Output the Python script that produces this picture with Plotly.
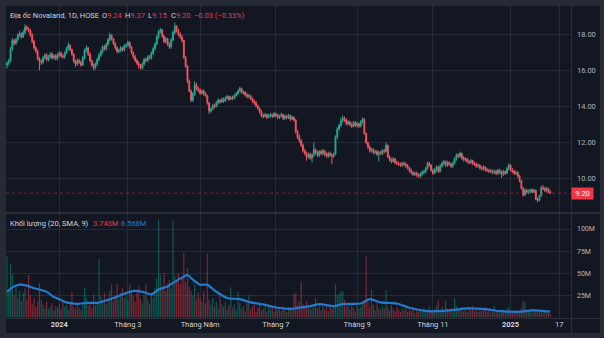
import plotly.graph_objects as go

# ---------------- data ----------------
opens = [
    16.30, 16.40, 16.55, 17.20, 17.65, 17.50, 17.70, 17.95, 18.05, 17.85,
    18.10, 18.40, 18.30, 18.20, 17.95, 17.60, 17.25, 17.05, 16.65, 16.50,
    16.45, 16.70, 16.85, 16.60, 16.75, 16.90, 16.70, 16.80, 16.65, 16.85,
    16.95, 16.80, 16.75, 16.95, 17.20, 17.40, 17.15, 16.90, 16.50, 16.35,
    16.55, 16.45, 16.30, 16.70, 17.10, 17.25, 16.90, 16.55, 16.30, 16.15,
    16.35, 16.60, 16.85, 17.05, 17.30, 17.20, 17.45, 17.70, 17.95, 17.75,
    17.50, 17.25, 17.05, 17.10, 17.25, 17.15, 17.35, 17.40, 17.55, 17.30,
    17.00, 16.75, 16.55, 16.40, 16.25, 16.15, 16.35, 16.60, 16.55, 16.75,
    16.70, 16.95, 17.20, 17.45, 17.85, 18.15, 18.25, 17.90, 17.60, 17.75,
    17.45, 17.30, 17.70, 18.10, 18.45, 18.20, 18.00, 17.85, 17.65, 16.70,
    16.25, 15.40, 14.85, 14.35, 14.70, 15.20, 15.00, 14.90, 14.75, 14.85,
    14.70, 14.60, 14.20, 13.75, 13.85, 14.05, 14.00, 14.20, 14.35, 14.25,
    14.40, 14.30, 14.45, 14.55, 14.40, 14.50, 14.45, 14.60, 14.70, 14.85,
    15.00, 14.75, 14.80, 14.65, 14.55, 14.60, 14.45, 14.30, 14.20, 14.05,
    13.90, 13.70, 13.50, 13.45, 13.55, 13.40, 13.50, 13.55, 13.45, 13.60,
    13.50, 13.40, 13.45, 13.55, 13.35, 13.45, 13.40, 13.50, 13.30, 13.40,
    13.25, 12.60, 12.30, 12.10, 11.85, 11.55, 11.40, 11.20, 11.35, 11.15,
    11.30, 11.60, 11.45, 11.30, 11.50, 11.40, 11.55, 11.35, 11.25, 11.40,
    11.30, 11.25, 11.35, 12.30, 12.75, 12.95, 13.20, 13.35, 13.25, 13.05,
    13.15, 13.00, 12.90, 13.10, 12.95, 13.05, 12.90, 13.15, 13.30, 12.50,
    12.00, 11.75, 11.55, 11.60, 11.45, 11.50, 11.35, 11.45, 11.40, 11.55,
    11.50, 11.85, 11.20, 11.05, 10.95, 11.10, 10.90, 10.85, 10.80, 10.75,
    10.85, 10.80, 10.70, 10.60, 10.45, 10.35, 10.25, 10.30, 10.20, 10.15,
    10.25, 10.35, 10.40, 10.55, 10.85, 10.75, 10.45, 10.30, 10.50, 10.65,
    10.40, 10.70, 10.85, 10.95, 10.75, 10.90, 10.80, 10.70, 10.85, 11.10,
    11.30, 11.25, 11.40, 11.15, 11.05, 11.10, 10.95, 10.90, 11.00, 10.85,
    10.80, 10.70, 10.75, 10.60, 10.55, 10.65, 10.50, 10.45, 10.40, 10.45,
    10.35, 10.40, 10.30, 10.45, 10.35, 10.25, 10.40, 10.30, 10.55, 10.75,
    10.50, 10.40, 10.30, 10.35, 10.15, 9.90, 9.45, 9.10, 9.35, 9.25,
    9.30, 9.40, 9.25, 9.35, 8.85, 8.80, 9.05, 9.50, 9.45, 9.35,
    9.45, 9.24,
]
highs = [
    16.50, 16.65, 17.30, 17.80, 17.75, 17.80, 18.05, 18.20, 18.10, 18.25,
    18.55, 18.50, 18.40, 18.30, 18.05, 17.70, 17.35, 17.15, 16.75, 16.60,
    16.80, 16.95, 16.95, 16.85, 17.00, 17.00, 16.90, 16.90, 16.95, 17.05,
    17.05, 16.90, 17.05, 17.30, 17.55, 17.45, 17.20, 16.95, 16.60, 16.65,
    16.65, 16.55, 16.80, 17.20, 17.40, 17.30, 17.00, 16.60, 16.40, 16.45,
    16.70, 16.95, 17.15, 17.40, 17.40, 17.55, 17.80, 18.10, 18.00, 17.80,
    17.55, 17.35, 17.20, 17.35, 17.30, 17.45, 17.50, 17.65, 17.60, 17.35,
    17.05, 16.85, 16.65, 16.50, 16.35, 16.45, 16.70, 16.70, 16.85, 16.85,
    17.05, 17.30, 17.55, 17.95, 18.25, 18.35, 18.30, 17.95, 17.85, 17.80,
    17.55, 17.80, 18.20, 18.65, 18.50, 18.30, 18.10, 17.95, 17.70, 16.80,
    16.30, 15.50, 14.95, 14.80, 15.40, 15.30, 15.10, 15.00, 14.95, 14.95,
    14.80, 14.65, 14.25, 13.95, 14.15, 14.15, 14.30, 14.45, 14.40, 14.50,
    14.50, 14.55, 14.65, 14.60, 14.60, 14.60, 14.70, 14.80, 14.95, 15.10,
    15.05, 14.90, 14.85, 14.75, 14.70, 14.65, 14.50, 14.40, 14.30, 14.10,
    13.95, 13.80, 13.60, 13.65, 13.60, 13.60, 13.65, 13.60, 13.70, 13.65,
    13.60, 13.55, 13.65, 13.60, 13.55, 13.55, 13.60, 13.55, 13.50, 13.45,
    13.30, 12.70, 12.45, 12.20, 11.95, 11.65, 11.50, 11.45, 11.45, 11.40,
    12.00, 11.70, 11.55, 11.60, 11.60, 11.65, 11.60, 11.45, 11.50, 11.50,
    11.40, 11.45, 12.40, 12.85, 13.05, 13.35, 13.50, 13.45, 13.35, 13.25,
    13.20, 13.10, 13.20, 13.20, 13.15, 13.10, 13.25, 13.40, 13.35, 12.55,
    12.05, 11.85, 11.70, 11.70, 11.60, 11.60, 11.55, 11.55, 11.65, 11.65,
    12.00, 11.90, 11.30, 11.15, 11.20, 11.15, 11.00, 10.95, 10.90, 10.95,
    10.95, 10.90, 10.80, 10.65, 10.55, 10.40, 10.40, 10.40, 10.30, 10.35,
    10.45, 10.50, 10.65, 10.95, 10.95, 10.80, 10.55, 10.60, 10.75, 10.70,
    10.80, 10.95, 11.05, 11.00, 11.00, 10.95, 10.90, 10.95, 11.20, 11.40,
    11.40, 11.50, 11.45, 11.25, 11.20, 11.15, 11.05, 11.10, 11.05, 10.95,
    10.90, 10.85, 10.80, 10.70, 10.75, 10.70, 10.60, 10.55, 10.55, 10.50,
    10.50, 10.50, 10.55, 10.55, 10.45, 10.50, 10.45, 10.65, 10.85, 10.80,
    10.60, 10.50, 10.45, 10.40, 10.20, 9.95, 9.55, 9.45, 9.45, 9.40,
    9.45, 9.45, 9.45, 9.40, 8.95, 9.10, 9.60, 9.65, 9.55, 9.55,
    9.50, 9.37,
]
lows = [
    16.10, 16.30, 16.45, 17.10, 17.40, 17.40, 17.60, 17.85, 17.75, 17.80,
    18.00, 18.20, 18.10, 17.85, 17.50, 17.15, 16.95, 16.55, 16.00, 16.30,
    16.35, 16.60, 16.50, 16.50, 16.65, 16.60, 16.60, 16.55, 16.55, 16.75,
    16.70, 16.65, 16.65, 16.90, 17.10, 17.05, 16.80, 16.40, 16.20, 16.25,
    16.35, 16.20, 16.25, 16.60, 17.00, 16.80, 16.45, 16.20, 16.00, 16.05,
    16.25, 16.50, 16.75, 16.95, 17.10, 17.10, 17.35, 17.60, 17.65, 17.40,
    17.15, 16.95, 16.95, 17.00, 17.05, 17.05, 17.25, 17.30, 17.20, 16.90,
    16.65, 16.45, 16.30, 16.10, 16.05, 16.05, 16.25, 16.45, 16.45, 16.60,
    16.60, 16.85, 17.10, 17.40, 17.75, 18.05, 17.80, 17.50, 17.50, 17.35,
    17.20, 17.20, 17.60, 18.00, 18.10, 17.90, 17.75, 17.55, 16.65, 16.15,
    15.30, 14.80, 14.25, 14.25, 14.60, 14.90, 14.80, 14.65, 14.65, 14.60,
    14.55, 14.10, 13.60, 13.65, 13.80, 13.90, 13.95, 14.10, 14.15, 14.20,
    14.20, 14.25, 14.40, 14.30, 14.35, 14.35, 14.40, 14.55, 14.65, 14.80,
    14.70, 14.65, 14.55, 14.45, 14.45, 14.35, 14.20, 14.10, 13.95, 13.80,
    13.60, 13.40, 13.35, 13.40, 13.30, 13.35, 13.40, 13.35, 13.40, 13.40,
    13.30, 13.30, 13.40, 13.25, 13.25, 13.30, 13.30, 13.20, 13.25, 13.15,
    12.50, 12.20, 12.00, 11.75, 11.45, 11.30, 11.00, 11.10, 11.05, 10.90,
    11.20, 11.35, 11.20, 11.20, 11.30, 11.30, 11.25, 11.15, 11.15, 11.20,
    10.80, 11.15, 11.30, 12.20, 12.65, 12.85, 13.10, 13.15, 12.95, 12.95,
    12.90, 12.80, 12.85, 12.85, 12.85, 12.80, 12.85, 13.05, 12.45, 11.90,
    11.65, 11.45, 11.45, 11.35, 11.35, 11.25, 10.95, 11.30, 11.30, 11.40,
    11.45, 11.15, 10.95, 10.85, 10.90, 10.80, 10.75, 10.70, 10.65, 10.65,
    10.70, 10.60, 10.50, 10.35, 10.25, 10.15, 10.15, 10.10, 10.05, 10.05,
    10.15, 10.25, 10.30, 10.50, 10.65, 10.40, 10.20, 10.25, 10.40, 10.30,
    10.35, 10.60, 10.75, 10.65, 10.65, 10.70, 10.60, 10.60, 10.80, 11.00,
    11.15, 11.15, 11.05, 10.95, 10.95, 10.85, 10.80, 10.80, 10.75, 10.70,
    10.60, 10.60, 10.50, 10.45, 10.45, 10.40, 10.35, 10.30, 10.30, 10.25,
    10.25, 10.20, 10.20, 10.25, 10.05, 10.15, 10.20, 10.25, 10.45, 10.40,
    10.30, 10.20, 10.20, 10.05, 9.80, 9.40, 9.00, 9.05, 9.15, 9.15,
    9.20, 9.20, 9.20, 8.80, 8.70, 8.75, 9.00, 9.35, 9.25, 9.25,
    9.20, 9.15,
]
closes = [
    16.40, 16.55, 17.20, 17.65, 17.50, 17.70, 17.95, 18.05, 17.85, 18.10,
    18.40, 18.30, 18.20, 17.95, 17.60, 17.25, 17.05, 16.65, 16.50, 16.45,
    16.70, 16.85, 16.60, 16.75, 16.90, 16.70, 16.80, 16.65, 16.85, 16.95,
    16.80, 16.75, 16.95, 17.20, 17.40, 17.15, 16.90, 16.50, 16.35, 16.55,
    16.45, 16.30, 16.70, 17.10, 17.25, 16.90, 16.55, 16.30, 16.15, 16.35,
    16.60, 16.85, 17.05, 17.30, 17.20, 17.45, 17.70, 17.95, 17.75, 17.50,
    17.25, 17.05, 17.10, 17.25, 17.15, 17.35, 17.40, 17.55, 17.30, 17.00,
    16.75, 16.55, 16.40, 16.25, 16.15, 16.35, 16.60, 16.55, 16.75, 16.70,
    16.95, 17.20, 17.45, 17.85, 18.15, 18.25, 17.90, 17.60, 17.75, 17.45,
    17.30, 17.70, 18.10, 18.45, 18.20, 18.00, 17.85, 17.65, 16.70, 16.25,
    15.40, 14.85, 14.35, 14.70, 15.20, 15.00, 14.90, 14.75, 14.85, 14.70,
    14.60, 14.20, 13.75, 13.85, 14.05, 14.00, 14.20, 14.35, 14.25, 14.40,
    14.30, 14.45, 14.55, 14.40, 14.50, 14.45, 14.60, 14.70, 14.85, 15.00,
    14.75, 14.80, 14.65, 14.55, 14.60, 14.45, 14.30, 14.20, 14.05, 13.90,
    13.70, 13.50, 13.45, 13.55, 13.40, 13.50, 13.55, 13.45, 13.60, 13.50,
    13.40, 13.45, 13.55, 13.35, 13.45, 13.40, 13.50, 13.30, 13.40, 13.25,
    12.60, 12.30, 12.10, 11.85, 11.55, 11.40, 11.20, 11.35, 11.15, 11.30,
    11.60, 11.45, 11.30, 11.50, 11.40, 11.55, 11.35, 11.25, 11.40, 11.30,
    11.25, 11.35, 12.30, 12.75, 12.95, 13.20, 13.35, 13.25, 13.05, 13.15,
    13.00, 12.90, 13.10, 12.95, 13.05, 12.90, 13.15, 13.30, 12.50, 12.00,
    11.75, 11.55, 11.60, 11.45, 11.50, 11.35, 11.45, 11.40, 11.55, 11.50,
    11.85, 11.20, 11.05, 10.95, 11.10, 10.90, 10.85, 10.80, 10.75, 10.85,
    10.80, 10.70, 10.60, 10.45, 10.35, 10.25, 10.30, 10.20, 10.15, 10.25,
    10.35, 10.40, 10.55, 10.85, 10.75, 10.45, 10.30, 10.50, 10.65, 10.40,
    10.70, 10.85, 10.95, 10.75, 10.90, 10.80, 10.70, 10.85, 11.10, 11.30,
    11.25, 11.40, 11.15, 11.05, 11.10, 10.95, 10.90, 11.00, 10.85, 10.80,
    10.70, 10.75, 10.60, 10.55, 10.65, 10.50, 10.45, 10.40, 10.45, 10.35,
    10.40, 10.30, 10.45, 10.35, 10.25, 10.40, 10.30, 10.55, 10.75, 10.50,
    10.40, 10.30, 10.35, 10.15, 9.90, 9.45, 9.10, 9.35, 9.25, 9.30,
    9.40, 9.25, 9.35, 8.85, 8.80, 9.05, 9.50, 9.45, 9.35, 9.45,
    9.23, 9.20,
]
# volume in millions of shares
volumes = [
    69, 30, 61, 48, 25, 35, 22, 30, 18, 28,
    33, 20, 48, 25, 15, 22, 12, 18, 39, 20,
    14, 10, 18, 9, 12, 16, 8, 13, 11, 15,
    9, 18, 12, 14, 8, 16, 29, 12, 10, 14,
    11, 8, 15, 34, 22, 13, 18, 10, 26, 14,
    16, 66, 24, 19, 28, 15, 22, 30, 37, 18,
    25, 38, 20, 28, 33, 22, 26, 20, 37, 30,
    24, 18, 28, 35, 21, 16, 25, 37, 20, 15,
    28, 22, 33, 44, 111, 48, 35, 50, 30, 38,
    42, 33, 110, 47, 42, 50, 38, 45, 73, 40,
    56, 35, 30, 25, 37, 20, 28, 22, 18, 30,
    16, 72, 20, 14, 22, 12, 18, 10, 25, 15,
    12, 18, 9, 14, 34, 11, 15, 8, 29, 16,
    10, 13, 7, 17, 25, 9, 12, 15, 6, 11,
    14, 8, 10, 16, 7, 12, 9, 13, 6, 10,
    8, 11, 7, 13, 9, 6, 12, 8, 10, 27,
    27, 14, 18, 41, 15, 10, 18, 12, 9, 14,
    11, 22, 10, 16, 8, 13, 9, 15, 7, 12,
    10, 14, 37, 25, 27, 29, 30, 20, 12, 16,
    9, 14, 11, 7, 13, 10, 12, 18, 20, 69,
    18, 12, 31, 14, 8, 16, 11, 9, 13, 10,
    31, 12, 8, 14, 10, 7, 12, 9, 6, 10,
    8, 11, 6, 9, 7, 10, 5, 8, 6, 9,
    7, 11, 6, 9, 12, 8, 6, 10, 14, 20,
    9, 12, 7, 19, 10, 8, 11, 6, 22, 13,
    10, 8, 12, 7, 9, 6, 11, 8, 13, 7,
    9, 6, 10, 7, 8, 12, 6, 9, 5, 8,
    13, 6, 8, 5, 9, 7, 6, 10, 12, 8,
    7, 5, 9, 6, 8, 11, 19, 17, 8, 6,
    7, 5, 8, 9, 6, 7, 8, 5, 6, 7,
    5, 3.743,
]
# Volume SMA(20) line (bar index, millions)
sma_idx = [0, 3, 7, 11, 15, 18, 22, 26, 29, 33, 39, 44, 50, 53, 59, 64, 70, 75,
           80, 84, 89, 92, 97, 100, 103, 107, 111, 116, 122, 129, 135, 142, 150,
           157, 162, 168, 173, 181, 186, 196, 201, 207, 216, 223, 233, 245, 255,
           266, 273, 284, 291, 301]
sma_vals = [28.9, 34, 37, 36, 33, 31.5, 29, 23, 20.6, 17, 15.4, 16.5, 16.5, 18, 22,
            26, 30, 29, 26, 31.5, 35, 39, 45, 48, 42.7, 37, 37, 29, 22, 20.6, 17,
            14.6, 10.9, 9.7, 10.9, 12.7, 15, 12.7, 15, 15.7, 20.6, 17, 15.7, 10.9,
            7, 7.9, 10.1, 9, 7, 6.4, 7.9, 6.568]

tick_idx = [29, 67, 107, 149, 194, 236, 279, 306]
tick_text = ["<b>2024</b>", "Tháng 3", "Tháng Năm", "Tháng 7", "Tháng 9",
             "Tháng 11", "<b>2025</b>", "17"]
price_ticks = [10, 12, 14, 16, 18]
vol_ticks = [25, 50, 75, 100]
vol_tick_text = ["25M", "50M", "75M", "100M"]

symbol_label = "Địa ốc Novaland, 1D, HOSE"
vol_label = "Khối lượng (20, SMA, 9)"

N = len(closes)
assert len(opens) == N and len(highs) == N and len(lows) == N and len(volumes) == N
assert len(sma_idx) == len(sma_vals)
idx = list(range(N))

# ---------------- style ----------------
BG = "#131722"
BORDER = "#262a35"
GRID = "#262a36"
TXT = "#b2b5be"
LEG = "#d1d4dc"
UP = "#22ab94"
DN = "#f7525f"
UP_V = "rgba(8,153,129,0.5)"
DN_V = "rgba(242,54,69,0.5)"
BLUE = "#2179d0"
FONT = "Roboto, 'Liberation Sans', sans-serif"

W, H = 604, 338
PL, PT, PR, PB = 6, 6, 33, 20
PW, PH = W - PL - PR, H - PT - PB


def fx(x):
    return (x - PL) / PW


def fy(y):
    return 1 - (y - PT) / PH


vcolors = [UP_V if c >= o else DN_V for o, c in zip(opens, closes)]

fig = go.Figure()
fig.add_trace(go.Candlestick(
    x=idx, open=opens, high=highs, low=lows, close=closes,
    xaxis="x", yaxis="y",
    increasing=dict(line=dict(color=UP, width=1), fillcolor=UP),
    decreasing=dict(line=dict(color=DN, width=1), fillcolor=DN),
    whiskerwidth=0, showlegend=False, hoverinfo="skip",
))
fig.add_trace(go.Bar(
    x=idx, y=volumes, marker=dict(color=vcolors, line=dict(width=0)),
    xaxis="x2", yaxis="y2", showlegend=False, hoverinfo="skip",
))
fig.add_trace(go.Scatter(
    x=sma_idx, y=sma_vals, mode="lines",
    line=dict(color=BLUE, width=2.2, shape="spline", smoothing=0.6),
    xaxis="x2", yaxis="y2", showlegend=False, hoverinfo="skip",
))

x_lo = (PL - 6.95) / 1.805
x_hi = (PL + PW - 6.95) / 1.805

price_lo = 10 + (178.7 - 212) / 18.05
price_hi = 10 + (178.7 - 6) / 18.05
vol_lo = (317.4 - 318) / 22.1 * 25
vol_hi = (317.4 - 214) / 22.1 * 25

common_x = dict(range=[x_lo, x_hi], tickvals=tick_idx, showgrid=True,
                gridcolor=GRID, gridwidth=1, zeroline=False, showline=False,
                ticks="", fixedrange=True)

fig.update_layout(
    width=W, height=H,
    margin=dict(l=PL, r=PR, t=PT, b=PB, pad=0),
    paper_bgcolor=BG, plot_bgcolor=BG,
    font=dict(family=FONT, size=7.5, color=TXT),
    bargap=0.35,
    xaxis=dict(domain=[0, 1], anchor="y", showticklabels=False,
               rangeslider=dict(visible=False), **common_x),
    xaxis2=dict(domain=[0, 1], anchor="y2", matches="x", ticktext=tick_text,
                tickfont=dict(size=7.5, color=LEG), **common_x),
    yaxis=dict(domain=[(H - PB - 212) / PH, 1], side="right",
               range=[price_lo, price_hi], tickvals=price_ticks,
               tickformat=".2f", showgrid=True, gridcolor=GRID, zeroline=False,
               ticks="", ticklabelstandoff=5, tickfont=dict(size=7.5, color=TXT),
               fixedrange=True),
    yaxis2=dict(domain=[0, (H - PB - 214) / PH], side="right",
                range=[vol_lo, vol_hi], tickvals=vol_ticks, ticktext=vol_tick_text,
                showgrid=True, gridcolor=GRID, zeroline=False, ticks="",
                ticklabelstandoff=5, tickfont=dict(size=7, color=TXT),
                fixedrange=True),
)

shapes = []
# outer frame
for (x0, y0, x1, y1) in [(0, 0, W, PT), (0, 0, PL, H), (0, H - 5, W, H), (W - 4, 0, W, H)]:
    shapes.append(dict(type="rect", xref="paper", yref="paper",
                       x0=fx(x0), x1=fx(x1), y0=fy(y0), y1=fy(y1),
                       fillcolor=BORDER, line=dict(width=0), layer="below"))
# pane separator, time-axis line, price-axis line
shapes.append(dict(type="line", xref="paper", yref="paper", x0=fx(PL), x1=fx(W - 4),
                   y0=fy(213), y1=fy(213), line=dict(color="#2a2e39", width=2)))
shapes.append(dict(type="line", xref="paper", yref="paper", x0=fx(PL), x1=fx(W - 4),
                   y0=fy(318.5), y1=fy(318.5), line=dict(color="#2a2e39", width=1)))
shapes.append(dict(type="line", xref="paper", yref="paper", x0=fx(571.5), x1=fx(571.5),
                   y0=fy(PT), y1=fy(H - 5), line=dict(color="#2a2e39", width=1)))
# last price dotted line
shapes.append(dict(type="line", xref="paper", yref="y", x0=0, x1=1,
                   y0=closes[-1], y1=closes[-1],
                   line=dict(color="rgba(242,54,69,0.5)", width=1, dash="dot")))
fig.update_layout(shapes=shapes)

RED = "#f23645"
chg = closes[-1] - closes[-2]
pct = chg / closes[-2] * 100


def fmt_signed(v, suffix=""):
    s = f"{abs(v):.2f}{suffix}"
    return ("\u2212" if v < 0 else "+") + s


ann = []


def add_text(x, y, text, color=LEG, size=7.5, **kw):
    ann.append(dict(xref="paper", yref="paper", x=fx(x), y=fy(y), text=text,
                    showarrow=False, xanchor="left", yanchor="middle",
                    font=dict(family=FONT, size=size, color=color), borderpad=0, **kw))


def span(v):
    return f"<span style='color:{RED}'>{v}</span>"


add_text(9, 15, symbol_label)
add_text(101, 15, "O" + span(f"{opens[-1]:.2f}"))
add_text(124, 15, "H" + span(f"{highs[-1]:.2f}"))
add_text(147, 15, "L" + span(f"{lows[-1]:.2f}"))
add_text(169.5, 15, "C" + span(f"{closes[-1]:.2f}"))
add_text(192.5, 15, f"{fmt_signed(chg)} ({fmt_signed(pct, '%')})", color=RED)

add_text(9, 223.5, vol_label)
add_text(91.5, 223.5, f"{volumes[-1]:.3f}M", color=RED)
add_text(119.5, 223.5, f"{sma_vals[-1]:.3f}M", color=BLUE)

# last price label on the price axis
ann.append(dict(xref="paper", yref="y", x=fx(582.5), y=closes[-1],
                text=f"{closes[-1]:.2f}", showarrow=False, xanchor="center",
                yanchor="middle", bgcolor=RED, width=21, height=11, borderpad=0,
                font=dict(family=FONT, size=7.5, color="#ffffff")))
fig.update_layout(annotations=ann)

fig.write_html("out.html")
